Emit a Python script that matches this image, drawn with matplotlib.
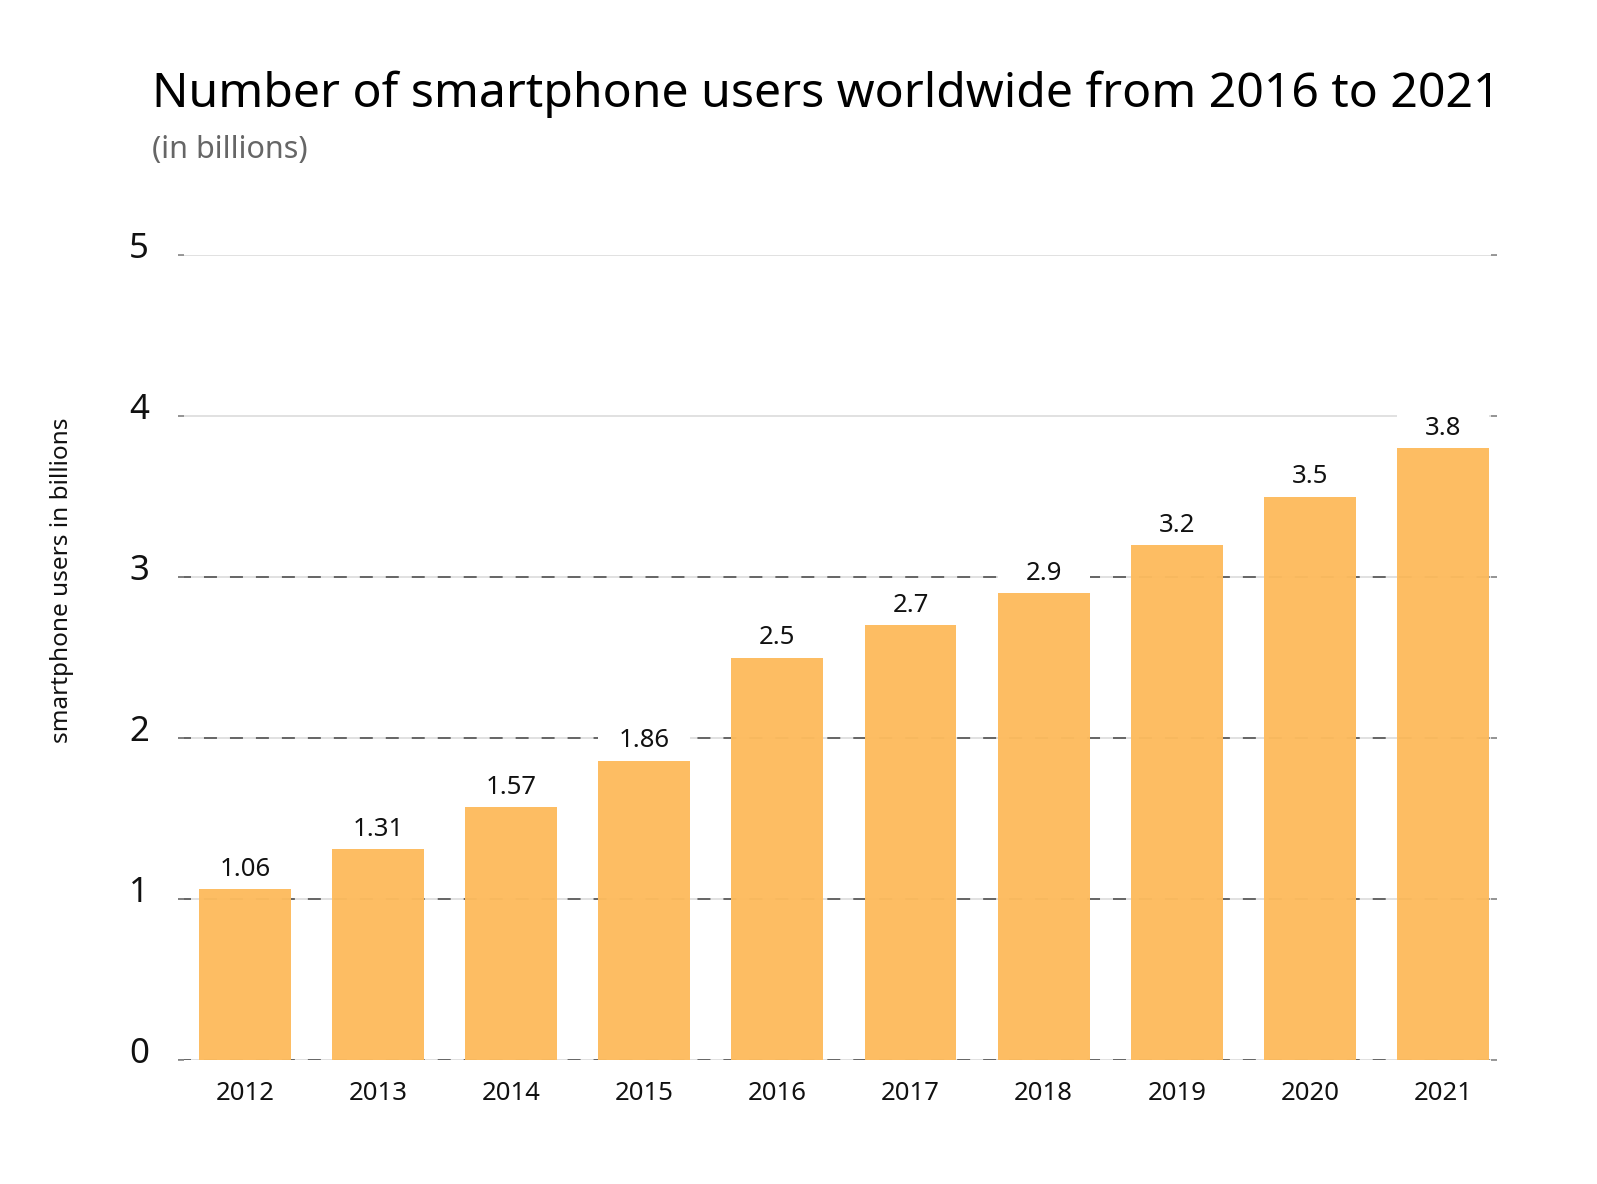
import matplotlib
matplotlib.use("Agg")
import matplotlib.pyplot as plt
import matplotlib.transforms as mtransforms
import numpy as np

plt.rcParams['font.family'] = ['Noto Sans', 'DejaVu Sans']

# data
years = ['2012', '2013', '2014', '2015', '2016', '2017', '2018', '2019', '2020', '2021']
users = [1.06, 1.31, 1.57, 1.86, 2.5, 2.7, 2.9, 3.2, 3.5, 3.8]
value_labels = ['1.06', '1.31', '1.57', '1.86', '2.5', '2.7', '2.9', '3.2', '3.5', '3.8']
yticks = [0, 1, 2, 3, 4, 5]
dashed_ticks = [0, 1, 2, 3]

bar_color = '#FDBB5E'

fig = plt.figure(figsize=(15.97, 11.84), dpi=100)
ax = fig.add_axes([178 / 1597, 1 - 1060 / 1184, (1497 - 178) / 1597, 805 / 1184])

x = np.arange(len(years))

# light solid grid for every tick, dark dashes over the lower ones
for t in yticks:
    ax.axhline(t, color='#D9D9D9', linewidth=1.1, zorder=1)
for t in dashed_ticks:
    ax.axhline(t, color='#444444', linewidth=1.1, linestyle=(0, (8.5, 8.5)), zorder=1)

bars = ax.bar(x, users, width=0.69, color=bar_color, zorder=2, alpha=0.97)

# white strip behind each value label hides the grid there
ax.bar(x, 0.2, bottom=np.array(users) + 0.02, width=0.69, color='white', zorder=1.5)

for xi, v, lab in zip(x, users, value_labels):
    ax.annotate(lab, (xi, v), xytext=(0, 9.5), textcoords='offset points',
                ha='center', va='baseline', fontsize=18.5, color='#111111', zorder=3)

ax.set_xlim(-0.503, 9.406)
ax.set_ylim(0, 5)
ax.set_xticks(x)
ax.set_xticklabels(years, fontsize=18.5, color='#111111')
ax.set_yticks(yticks)
ax.set_yticklabels([str(t) for t in yticks], fontsize=25, color='#111111')

ax.tick_params(axis='x', length=0, pad=15)
ax.tick_params(axis='y', direction='in', length=4.5, width=1.2, color='#888888',
               left=True, right=True, pad=21)

# lift y tick labels a bit above their lines
shift = mtransforms.ScaledTranslation(0, 7 / 72, fig.dpi_scale_trans)
for lab in ax.get_yticklabels():
    lab.set_transform(lab.get_transform() + shift)

for s in ax.spines.values():
    s.set_visible(False)

fig.text(152 / 1597, 1 - 107 / 1184, 'Number of smartphone users worldwide from 2016 to 2021',
         fontsize=34.7, va='baseline', ha='left', color='#000000')
fig.text(152 / 1597, 1 - 158 / 1184, '(in billions)',
         fontsize=22, va='baseline', ha='left', color='#666666')
fig.text(62 / 1597, 1 - 580 / 1184, 'smartphone users in billions',
         fontsize=17.5, rotation=90, ha='center', va='center', color='#111111')

fig.savefig('out.png', dpi=100)
